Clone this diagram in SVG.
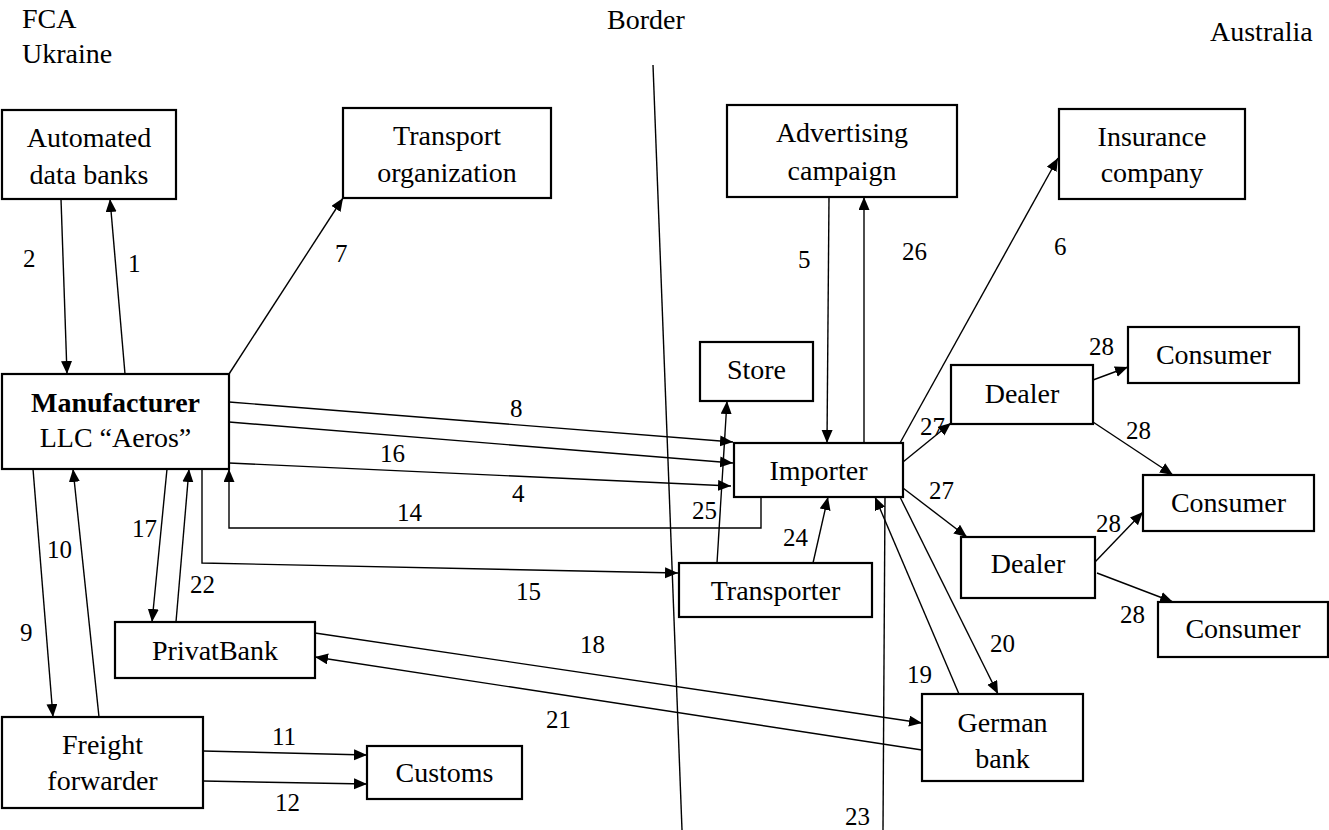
<svg xmlns="http://www.w3.org/2000/svg" width="1329" height="830" viewBox="0 0 1329 830">
<style>
.box{fill:#fff;stroke:#000;stroke-width:2.2}
.f{font-family:'Liberation Serif','Noto Serif','DejaVu Serif','FreeSerif','Nimbus Roman','Nimbus Roman No9 L',Times,serif}
.t{font-size:28px;fill:#000;text-anchor:middle}
.h{font-size:28px;fill:#000}
.n{font-size:25px;fill:#000}
.c{fill:none;stroke:#000;stroke-width:1.4}
.a{marker-end:url(#arr)}
</style>
<defs>
<marker id="arr" markerUnits="userSpaceOnUse" markerWidth="14" markerHeight="12" refX="13" refY="5.5" orient="auto">
<path d="M0,0 L13,5.5 L0,11 z" fill="#000"/>
</marker>
</defs>
<rect width="1329" height="830" fill="#fff"/>

<g id="headers" class="f" font-family="Liberation Serif, DejaVu Serif, serif">
<text class="h" x="22" y="28">FCA</text>
<text class="h" x="22" y="63">Ukraine</text>
<text class="h" x="607" y="29">Border</text>
<text class="h" x="1210" y="41">Australia</text>
</g>

<g id="connectors">
<line class="c" x1="653" y1="65" x2="682" y2="830"/>
<line class="c a" x1="61" y1="199" x2="67" y2="374"/>
<line class="c a" x1="125" y1="374" x2="110" y2="199"/>
<line class="c a" x1="229" y1="374" x2="343" y2="198"/>
<line class="c a" x1="229" y1="402" x2="733" y2="442"/>
<line class="c a" x1="229" y1="422" x2="733" y2="463"/>
<line class="c a" x1="229" y1="463" x2="731" y2="486"/>
<polyline class="c a" points="761,497 761,528 229,528 229,469"/>
<polyline class="c a" points="202,469 202,563 678,573"/>
<line class="c a" x1="717" y1="563" x2="727" y2="401"/>
<line class="c a" x1="813" y1="563" x2="828" y2="497"/>
<line class="c a" x1="829" y1="197" x2="827" y2="443"/>
<line class="c a" x1="864" y1="443" x2="864" y2="197"/>
<line class="c a" x1="900" y1="443" x2="1058" y2="158"/>
<line class="c a" x1="903" y1="462" x2="951" y2="423"/>
<line class="c a" x1="903" y1="488" x2="967" y2="537"/>
<line class="c a" x1="1093" y1="380" x2="1128" y2="367"/>
<line class="c a" x1="1093" y1="422" x2="1173" y2="475"/>
<line class="c a" x1="1095" y1="562" x2="1143" y2="512"/>
<line class="c a" x1="1097" y1="573" x2="1173" y2="602"/>
<line class="c a" x1="900" y1="497" x2="998" y2="694"/>
<line class="c a" x1="959" y1="694" x2="875" y2="497"/>
<line class="c" x1="885" y1="497" x2="883" y2="830"/>
<line class="c a" x1="315" y1="633" x2="922" y2="723"/>
<line class="c a" x1="922" y1="750" x2="315" y2="657"/>
<line class="c a" x1="167" y1="469" x2="152" y2="622"/>
<line class="c a" x1="176" y1="622" x2="189" y2="469"/>
<line class="c a" x1="33" y1="469" x2="53" y2="717"/>
<line class="c a" x1="99" y1="717" x2="73" y2="469"/>
<line class="c a" x1="203" y1="751" x2="367" y2="755"/>
<line class="c a" x1="203" y1="781" x2="367" y2="784"/>
</g>

<g id="labels" class="f">
<text class="n" x="23" y="267">2</text>
<text class="n" x="128" y="272">1</text>
<text class="n" x="335" y="262">7</text>
<text class="n" x="510" y="417">8</text>
<text class="n" x="380" y="462">16</text>
<text class="n" x="512" y="502">4</text>
<text class="n" x="397" y="521">14</text>
<text class="n" x="516" y="600">15</text>
<text class="n" x="692" y="519">25</text>
<text class="n" x="783" y="546">24</text>
<text class="n" x="798" y="268">5</text>
<text class="n" x="902" y="260">26</text>
<text class="n" x="1054" y="255">6</text>
<text class="n" x="920" y="435">27</text>
<text class="n" x="929" y="499">27</text>
<text class="n" x="1089" y="355">28</text>
<text class="n" x="1126" y="439">28</text>
<text class="n" x="1096" y="532">28</text>
<text class="n" x="1120" y="623">28</text>
<text class="n" x="990" y="652">20</text>
<text class="n" x="907" y="683">19</text>
<text class="n" x="580" y="653">18</text>
<text class="n" x="546" y="728">21</text>
<text class="n" x="132" y="537">17</text>
<text class="n" x="190" y="593">22</text>
<text class="n" x="20" y="641">9</text>
<text class="n" x="47" y="558">10</text>
<text class="n" x="272" y="745">11</text>
<text class="n" x="275" y="811">12</text>
<text class="n" x="845" y="825">23</text>
</g>

<g id="automated" class="f"><rect class="box" x="2" y="110" width="174" height="89"/><text class="t" x="89" y="147">Automated</text><text class="t" x="89" y="184">data banks</text></g>
<g id="transport-org" class="f"><rect class="box" x="343" y="108" width="208" height="90"/><text class="t" x="447" y="145">Transport</text><text class="t" x="447" y="182">organization</text></g>
<g id="advertising" class="f"><rect class="box" x="727" y="105" width="230" height="92"/><text class="t" x="842" y="142">Advertising</text><text class="t" x="842" y="180">campaign</text></g>
<g id="insurance" class="f"><rect class="box" x="1059" y="109" width="186" height="90"/><text class="t" x="1152" y="146">Insurance</text><text class="t" x="1152" y="182">company</text></g>
<g id="manufacturer" class="f"><rect class="box" x="2" y="374" width="227" height="95"/><text class="t" x="115.5" y="412" font-weight="bold">Manufacturer</text><text class="t" x="115.5" y="447">LLC “Aeros”</text></g>
<g id="store" class="f"><rect class="box" x="700" y="342" width="113" height="59"/><text class="t" x="756.5" y="379">Store</text></g>
<g id="importer" class="f"><rect class="box" x="734" y="443" width="169" height="54"/><text class="t" x="818.5" y="480">Importer</text></g>
<g id="transporter" class="f"><rect class="box" x="679" y="563" width="193" height="54"/><text class="t" x="775.5" y="600">Transporter</text></g>
<g id="dealer1" class="f"><rect class="box" x="951" y="365" width="142" height="59"/><text class="t" x="1022" y="403">Dealer</text></g>
<g id="consumer1" class="f"><rect class="box" x="1128" y="327" width="171" height="56"/><text class="t" x="1213.5" y="364">Consumer</text></g>
<g id="consumer2" class="f"><rect class="box" x="1143" y="475" width="171" height="56"/><text class="t" x="1228.5" y="512">Consumer</text></g>
<g id="dealer2" class="f"><rect class="box" x="961" y="537" width="134" height="61"/><text class="t" x="1028" y="573">Dealer</text></g>
<g id="consumer3" class="f"><rect class="box" x="1158" y="602" width="170" height="55"/><text class="t" x="1243" y="638">Consumer</text></g>
<g id="german-bank" class="f"><rect class="box" x="922" y="694" width="161" height="87"/><text class="t" x="1002.5" y="732">German</text><text class="t" x="1002.5" y="768">bank</text></g>
<g id="privatbank" class="f"><rect class="box" x="115" y="622" width="200" height="56"/><text class="t" x="215" y="660">PrivatBank</text></g>
<g id="freight" class="f"><rect class="box" x="2" y="717" width="201" height="91"/><text class="t" x="102.5" y="754">Freight</text><text class="t" x="102.5" y="790">forwarder</text></g>
<g id="customs" class="f"><rect class="box" x="367" y="746" width="155" height="53"/><text class="t" x="444.5" y="782">Customs</text></g>
</svg>
